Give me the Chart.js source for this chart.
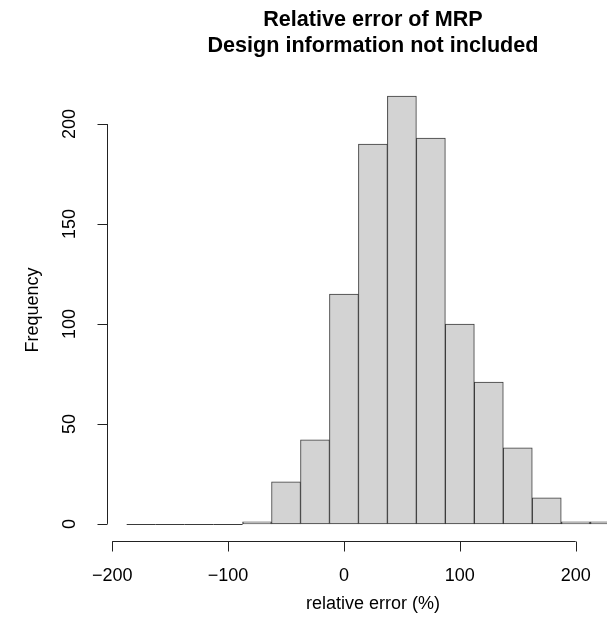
<!DOCTYPE html>
<html>
<head>
<meta charset="utf-8">
<script src="https://cdn.jsdelivr.net/npm/chart.js@4/dist/chart.umd.min.js"></script>
<style>
  html, body { margin: 0; padding: 0; background: #fff; overflow: hidden; }
  canvas { display: block; }
</style>
</head>
<body>
<canvas id="hist" width="607" height="632"></canvas>
<script>
// histogram breaks (bin edges) and counts per bin
const breaks = [-187.5, -162.5, -137.5, -112.5, -87.5, -62.5, -37.5, -12.5, 12.5,
                37.5, 62.5, 87.5, 112.5, 137.5, 162.5, 187.5, 212.5, 237.5];
const counts = [0, 0, 0, 0, 1, 21, 42, 115, 190, 214, 193, 100, 71, 38, 13, 1, 1];

const xTicks = [-200, -100, 0, 100, 200];
const yTicks = [0, 50, 100, 150, 200];

const titleLines = ['Relative error of MRP', 'Design information not included'];
const xTitle = 'relative error (%)';
const yTitle = 'Frequency';

const fontFamily = '"Liberation Sans", Arial, Helvetica, sans-serif';

// bin centres for the bar chart
const points = counts.map((c, i) => ({ x: (breaks[i] + breaks[i + 1]) / 2, y: c }));

const fmt = v => (v < 0 ? '\u2212' + Math.abs(v) : String(v));

// R-style axes, titles and zero-height bins
const rAxes = {
    id: 'rAxes',
    afterDatasetsDraw(chart) {
        const ctx = chart.ctx;
        const x = chart.scales.x;
        const y = chart.scales.y;
        const area = chart.chartArea;
        ctx.save();

        // empty bins drawn as a flat line at zero, like R does
        ctx.strokeStyle = '#3a3a3a';
        ctx.lineWidth = 1;
        const y0 = Math.round(y.getPixelForValue(0)) + 0.5;
        counts.forEach((c, i) => {
            if (c === 0) {
                ctx.beginPath();
                ctx.moveTo(x.getPixelForValue(breaks[i]), y0);
                ctx.lineTo(x.getPixelForValue(breaks[i + 1]), y0);
                ctx.stroke();
            }
        });

        ctx.strokeStyle = '#222';
        ctx.fillStyle = '#000';

        // plot region centre (R xlim extended by 4%)
        const cx = (x.getPixelForValue(-204.5) + x.getPixelForValue(254.5)) / 2;

        // x axis
        const axY = area.bottom + 0.5;
        ctx.beginPath();
        ctx.moveTo(x.getPixelForValue(xTicks[0]), axY);
        ctx.lineTo(x.getPixelForValue(xTicks[xTicks.length - 1]), axY);
        xTicks.forEach(t => {
            const px = Math.round(x.getPixelForValue(t)) + 0.5;
            ctx.moveTo(px, axY);
            ctx.lineTo(px, axY + 10);
        });
        ctx.stroke();
        ctx.font = '18px ' + fontFamily;
        ctx.textAlign = 'center';
        ctx.textBaseline = 'middle';
        xTicks.forEach(t => {
            ctx.fillText(fmt(t), x.getPixelForValue(t), axY + 35);
        });
        ctx.fillText(xTitle, cx, axY + 63);

        // y axis
        const axX = area.left + 0.5;
        ctx.beginPath();
        ctx.moveTo(axX, y.getPixelForValue(yTicks[0]));
        ctx.lineTo(axX, y.getPixelForValue(yTicks[yTicks.length - 1]));
        yTicks.forEach(t => {
            const py = Math.round(y.getPixelForValue(t)) + 0.5;
            ctx.moveTo(axX, py);
            ctx.lineTo(axX - 10, py);
        });
        ctx.stroke();
        yTicks.forEach(t => {
            ctx.save();
            ctx.translate(axX - 37, y.getPixelForValue(t));
            ctx.rotate(-Math.PI / 2);
            ctx.fillText(fmt(t), 0, 0);
            ctx.restore();
        });
        ctx.save();
        ctx.translate(axX - 74, (area.top + area.bottom) / 2);
        ctx.rotate(-Math.PI / 2);
        ctx.fillText(yTitle, 0, 0);
        ctx.restore();

        // main title, centred on the full plot region
        ctx.font = 'bold 21.6px ' + fontFamily;
        ctx.fillText(titleLines[0], cx, 20);
        ctx.fillText(titleLines[1], cx, 46);

        ctx.restore();
    }
};

const chart = new Chart(document.getElementById('hist'), {
    type: 'bar',
    data: {
        datasets: [{
            data: points,
            backgroundColor: '#d3d3d3',
            borderColor: '#3a3a3a',
            borderWidth: 1,
            borderSkipped: false,
            barPercentage: 1,
            categoryPercentage: 1,
        }],
    },
    options: {
        responsive: false,
        animation: false,
        devicePixelRatio: 1,
        layout: {
            padding: { left: 107, right: 0, top: 79, bottom: 91 },
        },
        scales: {
            x: { type: 'linear', min: -204.5, max: 227, offset: false, display: false },
            y: { type: 'linear', min: -8.56, max: 222.56, display: false },
        },
        plugins: {
            legend: { display: false },
            tooltip: { enabled: false },
        },
    },
    plugins: [rAxes],
});
</script>
</body>
</html>
